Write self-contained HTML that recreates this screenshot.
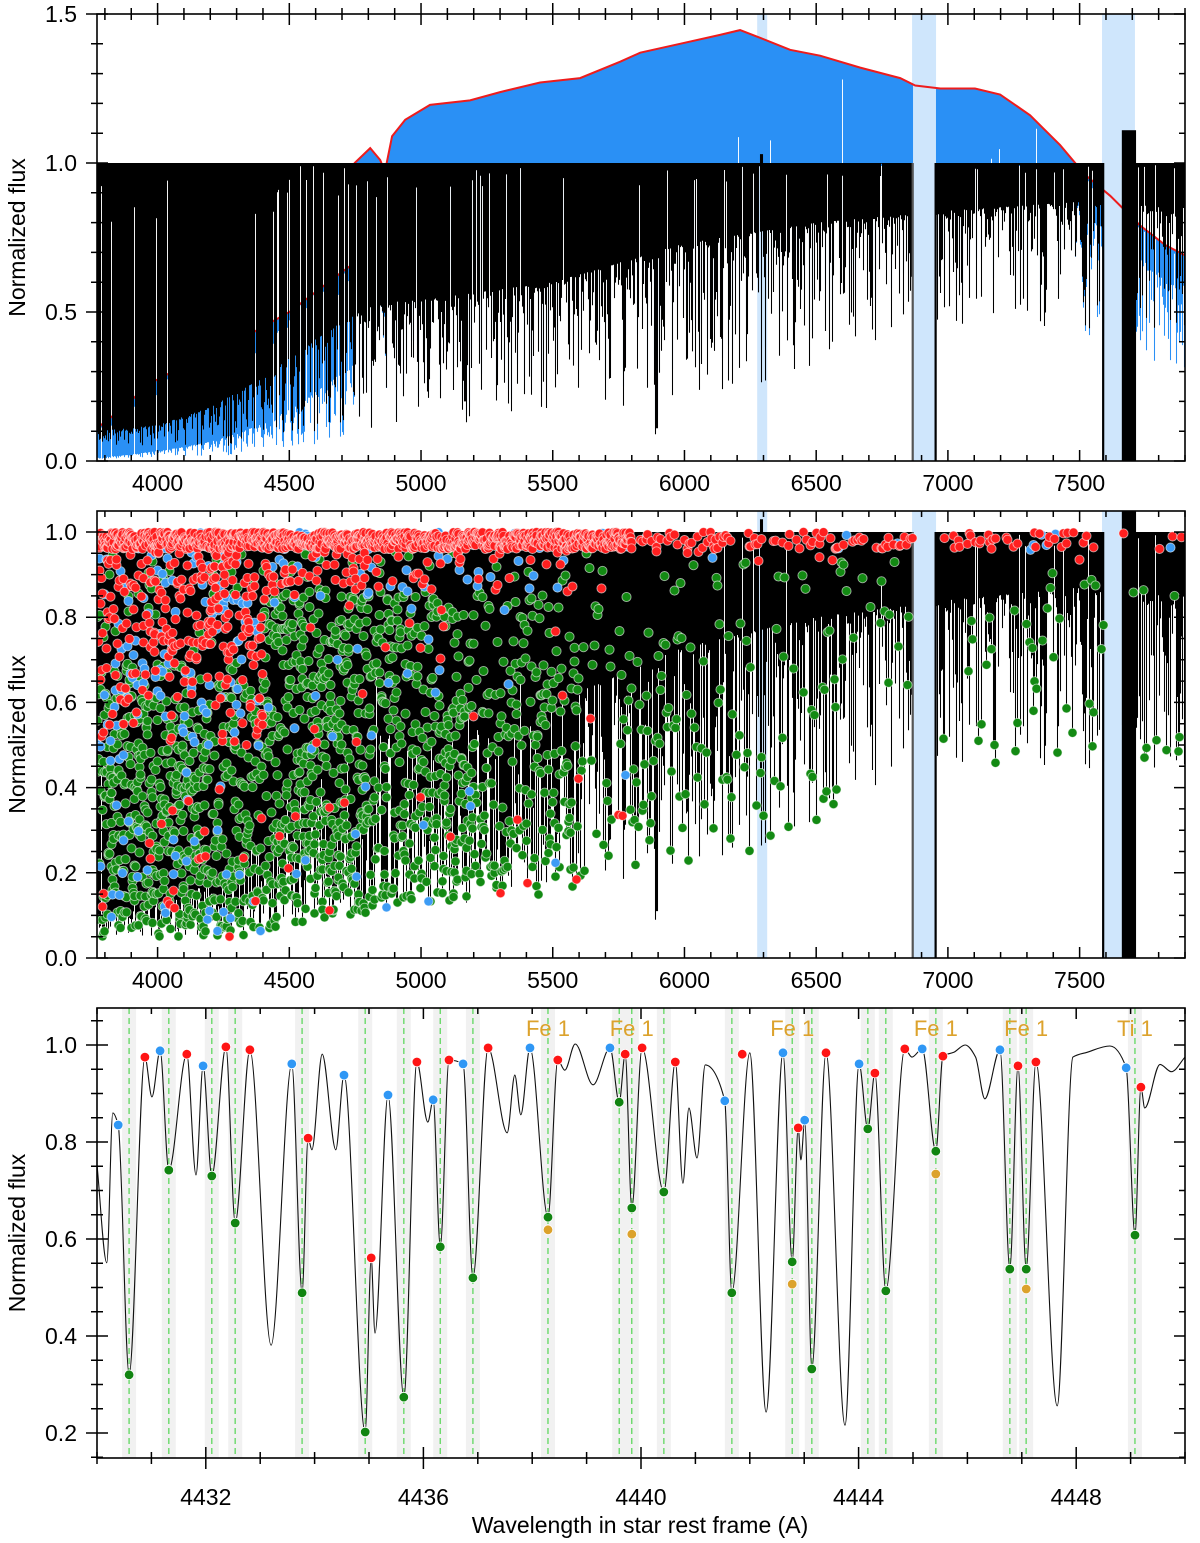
<!DOCTYPE html>
<html><head><meta charset="utf-8"><title>Spectrum normalization</title>
<style>
html,body{margin:0;padding:0;background:#fff;}
svg{display:block;font-family:"Liberation Sans",Arial,sans-serif;}
</style></head>
<body>
<svg id="fig" width="1200" height="1543" viewBox="0 0 1200 1543" xmlns="http://www.w3.org/2000/svg">
<defs>
<clipPath id="c1"><rect x="97" y="14" width="1088" height="447"/></clipPath>
<clipPath id="c2"><rect x="97" y="511" width="1088" height="447"/></clipPath>
<clipPath id="c3"><rect x="97" y="1008" width="1088" height="450"/></clipPath>
</defs>
<g id="p1"></g>
<g id="p2"></g>
<g id="p3"></g>
</svg>
<script>
// ---------- data ----------
const contWl   = [3770,3857,3971,4100,4300,4500,4693,4740,4748,4807,4845,4863,4890,4940,5034,5186,5300,5452,5604,5756,5832,5983,6135,6211,6287,6401,6515,6667,6819,6876,6971,7103,7198,7312,7426,7521,7616,7730,7825,7900];
const contFlux = [0.11,0.17,0.26,0.32,0.40,0.50,0.63,0.66,1.0,1.05,1.01,0.97,1.09,1.145,1.195,1.21,1.238,1.27,1.285,1.34,1.37,1.40,1.43,1.446,1.42,1.38,1.36,1.32,1.285,1.26,1.25,1.25,1.23,1.16,1.06,0.96,0.89,0.79,0.725,0.69];
const solidWl    = [3770,4000,4200,4400,4650,4850,5000,5500,6000,6500,7000,7500,7900];
const solidDepth = [0.9,0.88,0.82,0.72,0.56,0.46,0.46,0.4,0.27,0.2,0.16,0.13,0.15];
const maxWl    = [3770,4300,4700,5000,5500,5900,6300,6600,7000,7500,7900];
const maxDepth = [0.95,0.95,0.9,0.88,0.85,0.8,0.75,0.65,0.55,0.55,0.6];
const deepLineWl   = [4227,5167,5173,5184,5890,5896,6563];
const deepLineFlux = [0.12,0.2,0.13,0.15,0.09,0.11,0.4];
const bandStart = [6276,6864,7585];
const bandEnd   = [6314,6955,7710];
const tellBarWl   = [6866,6953,7589,7664,7718];
const tellBarTop1 = [1.0,1.0,1.0,1.11,1.11];

// bottom panel spectrum
const zWl = [4430.00,4430.18,4430.29,4430.39,4430.59,4430.88,4431.01,4431.16,4431.32,4431.65,4431.82,4431.95,4432.11,4432.37,4432.54,4432.81,4433.20,4433.58,4433.77,4433.88,4433.95,4434.14,4434.39,4434.54,4434.93,4435.04,4435.11,4435.35,4435.64,4435.88,4436.08,4436.18,4436.31,4436.47,4436.73,4436.91,4437.19,4437.54,4437.68,4437.79,4437.96,4438.29,4438.47,4438.60,4438.79,4439.12,4439.43,4439.60,4439.71,4439.83,4440.02,4440.42,4440.63,4440.77,4440.88,4441.03,4441.18,4441.54,4441.67,4442.00,4442.30,4442.61,4442.78,4442.89,4442.94,4443.01,4443.14,4443.40,4443.75,4444.01,4444.17,4444.30,4444.50,4444.85,4444.98,4445.17,4445.42,4445.55,4445.75,4445.96,4446.15,4446.32,4446.60,4446.78,4446.93,4447.08,4447.26,4447.65,4447.94,4448.20,4448.62,4448.92,4449.08,4449.19,4449.26,4449.54,4449.75,4450.00];
const zFlux = [0.753,0.551,0.860,0.835,0.320,0.975,0.893,0.988,0.742,0.981,0.732,0.957,0.730,0.996,0.633,0.990,0.381,0.961,0.489,0.808,0.784,0.981,0.784,0.938,0.202,0.561,0.406,0.897,0.274,0.965,0.841,0.887,0.584,0.969,0.961,0.520,0.994,0.819,0.938,0.856,0.994,0.645,0.969,0.948,1.002,0.918,0.994,0.882,0.981,0.664,0.994,0.697,0.965,0.715,0.870,0.767,0.959,0.885,0.489,0.984,0.243,0.984,0.553,0.829,0.763,0.845,0.332,0.984,0.216,0.961,0.827,0.942,0.493,0.992,0.975,0.992,0.781,0.977,0.985,1.0,0.975,0.889,0.990,0.538,0.957,0.538,0.965,0.256,0.975,0.985,0.998,0.953,0.608,0.913,0.870,0.960,0.945,0.975];
const greenWl = [4430.59,4431.32,4432.11,4432.54,4433.77,4434.93,4435.64,4436.31,4436.91,4438.29,4439.60,4439.83,4440.42,4441.67,4442.78,4443.14,4444.17,4444.50,4445.42,4446.78,4447.08,4449.08];
const greenFlux = [0.320,0.742,0.730,0.633,0.489,0.202,0.274,0.584,0.520,0.645,0.882,0.664,0.697,0.489,0.553,0.332,0.827,0.493,0.781,0.538,0.538,0.608];
const orangeWl = [4438.29,4439.83,4442.78,4445.42,4447.08];
const orangeFlux = [0.619,0.610,0.507,0.734,0.497];
const redWl = [4430.88,4431.65,4432.37,4432.81,4433.88,4435.04,4435.88,4436.47,4437.19,4438.47,4439.71,4440.02,4440.63,4441.86,4442.89,4443.40,4444.30,4444.85,4445.55,4446.93,4447.26,4449.19];
const redFlux = [0.975,0.981,0.996,0.990,0.808,0.561,0.965,0.969,0.994,0.969,0.981,0.994,0.965,0.981,0.829,0.984,0.942,0.992,0.977,0.957,0.965,0.913];
const blueWl = [4430.39,4431.16,4431.95,4433.58,4434.54,4435.35,4436.18,4436.73,4437.96,4439.43,4441.54,4442.61,4443.01,4444.01,4445.17,4446.60,4448.92];
const blueFlux = [0.835,0.988,0.957,0.961,0.938,0.897,0.887,0.961,0.994,0.994,0.885,0.984,0.845,0.961,0.992,0.990,0.953];
const labelWl = [4438.29,4439.83,4442.78,4445.42,4447.08,4449.08];
const labelText = ["Fe 1","Fe 1","Fe 1","Fe 1","Fe 1","Ti 1"];
const xTicks1 = ["4000","4500","5000","5500","6000","6500","7000","7500"];
const yTicks1 = ["0.0","0.5","1.0","1.5"];
const yTicks2 = ["0.0","0.2","0.4","0.6","0.8","1.0"];
const xTicks3 = ["4432","4436","4440","4444","4448"];
const yTicks3 = ["0.2","0.4","0.6","0.8","1.0"];

// panel-2 line markers (wavelength, flux, class) - filled below
const mkWl = [], mkFlux = [], mkCls = [];

// ---------- helpers ----------
const NS='http://www.w3.org/2000/svg';
function mk(tag,parent){const e=document.createElementNS(NS,tag);parent.appendChild(e);return e;}
function at(e,o){for(const k in o)e.setAttribute(k,o[k]);return e;}
function interp(xs,ys,x){if(x<=xs[0])return ys[0];for(let i=1;i<xs.length;i++){if(x<=xs[i]){const t=(x-xs[i-1])/(xs[i]-xs[i-1]);return ys[i-1]+t*(ys[i]-ys[i-1]);}}return ys[ys.length-1];}
function hsh(i,s){const v=Math.sin(i*127.1+s*311.7)*43758.5453;return v-Math.floor(v);}
const X0=97,X1=1185;
const xA=l=>X0+(l-3770)*(X1-X0)/(7900-3770);
const lA=x=>3770+(x-X0)*(7900-3770)/(X1-X0);
const y1=f=>461-f*298;
const y2=f=>958-f*426;
const xZ=l=>X0+(l-4430)*(X1-X0)/20;
const y3=f=>1433-(f-0.2)*485;
const inBand=(l,a,b)=>l>a&&l<b;
const supp=l=>inBand(l,6866,6953)||inBand(l,7591,7662);

// per-column normalized flux
const colN=[];
for(let x=X0;x<X1;x++){
  const l=lA(x+0.5), i=x-X0;
  const S=interp(solidWl,solidDepth,l), M=interp(maxWl,maxDepth,l);
  let n=1-S*(0.55+0.45*hsh(i,1));
  const sp=1-(S+(M-S)*Math.pow(hsh(i,2),2.2));
  n=Math.min(n,sp);
  if(hsh(i,3)<0.06) n=1-S*0.25*hsh(i,4);
  for(let k=0;k<deepLineWl.length;k++){if(Math.abs(l-deepLineWl[k])<2.2)n=Math.min(n,deepLineFlux[k]);}
  colN.push(Math.max(0.03,n));
}
// generate marker list
for(let x=X0;x<X1;x++){
  const l=lA(x+0.5), i=x-X0; if(supp(l))continue;
  const M=interp(maxWl,maxDepth,l);
  const topRate = l<5800?2.0:(l<7600?0.25:0.12);
  const midRate = l<4300?6:(l<4800?5:(l<5200?3.5:(l<5600?2.2:(l<6000?0.7:(l<6600?0.45:0.2)))));
  let cnt=0;
  let r=topRate; while(hsh(i*7+cnt,5)<r){ r-=1;
    const f=1-0.04*hsh(i*7+cnt,6);
    mkWl.push(l); mkFlux.push(f); mkCls.push(hsh(i*7+cnt,7)<0.1?'b':'r'); cnt++; if(cnt>3)break;}
  let q=midRate, c2=0; while(hsh(i*11+c2,8)<q){ q-=1;
    const f=1-M*(0.05+0.95*hsh(i*11+c2,9));
    const u=hsh(i*11+c2,10); let cls='g';
    if(l<4400){ if(f>0.7) cls=u<0.7?'r':(u<0.88?'b':'g'); else if(f>0.5) cls=u<0.3?'r':(u<0.45?'b':'g'); else cls=u<0.05?'r':(u<0.12?'b':'g'); }
    else if(l<5800){ if(f>0.86) cls=u<0.6?'r':(u<0.78?'b':'g'); else cls=u<0.03?'r':(u<0.07?'b':'g'); }
    else { if(f>0.93) cls=u<0.6?'r':'b'; else cls='g'; }
    mkWl.push(l); mkFlux.push(f); mkCls.push(cls); c2++; if(c2>7)break;}
}

// ---------- axes ----------
function axes(g,P,xl,yl){
  const fr=mk('rect',g); at(fr,{x:P.x0,y:P.y0,width:P.x1-P.x0,height:P.y1-P.y0,fill:'none',stroke:'#000','stroke-width':1.6});
   
  const tk=mk('path',g); let d='';
  P.xt.forEach(([v,maj])=>{const x=P.fx(v),L=maj?11:6;d+=`M${x} ${P.y1}v${-L}M${x} ${P.y0}v${L}`; if(P.outX) d+=`M${x} ${P.y1}v${L}`; if(P.outTop) d+=`M${x} ${P.y0}v${-L}`;});
  P.yt.forEach(([v,maj])=>{const y=P.fy(v),L=maj?11:6;d+=`M${P.x0} ${y}h${L}M${P.x1} ${y}h${-L}M${P.x0} ${y}h${-L}`;});
  at(tk,{d:d,stroke:'#000','stroke-width':1.5,fill:'none'});
   
  xl.forEach(s=>{const t=mk('text',g);at(t,{x:P.fx(+s),y:P.xly,'text-anchor':'middle','font-size':23});t.textContent=s;
     });
  yl.forEach(s=>{const t=mk('text',g);at(t,{x:77,y:P.fy(+s)+8,'text-anchor':'end','font-size':23});t.textContent=s;
     });
  const yt=mk('text',g);const cy=(P.y0+P.y1)/2;at(yt,{x:0,y:0,transform:`translate(25 ${cy}) rotate(-90)`,'text-anchor':'middle','font-size':23});yt.textContent='Normalized flux';
   
}
function wlTicks(){const a=[];for(let v=3800;v<=7900;v+=100)a.push([v,v%500===0]);return a;}

// ---------- panel 1 ----------
(function(){
  const g=document.getElementById('p1');
  const pg=mk('g',g); pg.setAttribute('clip-path','url(#c1)');
   
  bandStart.forEach((a,k)=>{const r=mk('rect',pg);at(r,{x:xA(a),y:14,width:xA(bandEnd[k])-xA(a),height:447,fill:'#cfe6fc'});
     });
  let db='',dk='';
  for(let x=X0;x<X1;x++){const l=lA(x+0.5);if(supp(l))continue;const c=interp(contWl,contFlux,l),n=colN[x-X0];
    let bb=c*n; if(l>4745&&hsh(x,12)>0.05) bb=Math.min(bb,0.99);
    db+=`M${x+0.5} ${y1(c).toFixed(1)}V${y1(bb).toFixed(1)}`;
    let top=1; if(l>6285&&l<6300)top=1.03;
    dk+=`M${x+0.5} ${y1(top).toFixed(1)}V${y1(n).toFixed(1)}`;}
  const pb=mk('path',pg);at(pb,{d:db,stroke:'#2a90f5','stroke-width':1.05,fill:'none'});
   
  let dr='';contWl.forEach((l,k)=>{dr+=(k?'L':'M')+xA(l).toFixed(1)+' '+y1(contFlux[k]).toFixed(1);});
  const pr=mk('path',pg);at(pr,{d:dr,stroke:'#ee1c1c','stroke-width':2,fill:'none'});
   
  const pk=mk('path',pg);at(pk,{d:dk,stroke:'#000','stroke-width':1.05,fill:'none'});
   
  tellBarWl.forEach((l,k)=>{if(k===4)return;const w=k===3?(xA(7718)-xA(7664)):2.2;
    const b=mk('rect',pg);at(b,{x:xA(l)-1,y:y1(tellBarTop1[k]),width:w,height:y1(0)-y1(tellBarTop1[k]),fill:k===0?'#555':'#000'});
     });
  axes(g,{x0:X0,x1:X1,y0:14,y1:461,fx:xA,fy:y1,xt:wlTicks(),yt:[0,.1,.2,.3,.4,.5,.6,.7,.8,.9,1,1.1,1.2,1.3,1.4,1.5].map(v=>[v,Math.abs(v*2-Math.round(v*2))<1e-6]),xly:491,outTop:true},xTicks1,yTicks1);
})();

// ---------- panel 2 ----------
(function(){
  const g=document.getElementById('p2');
  const pg=mk('g',g); pg.setAttribute('clip-path','url(#c2)');
   
  bandStart.forEach((a,k)=>{const r=mk('rect',pg);at(r,{x:xA(a),y:511,width:xA(bandEnd[k])-xA(a),height:447,fill:'#cfe6fc'});
     });
  const low=colN.slice();
  mkWl.forEach((l,k)=>{const i=Math.floor(xA(l))-X0;if(i>=0&&i<low.length)low[i]=Math.min(low[i],mkFlux[k]);});
  let dk='';
  for(let x=X0;x<X1;x++){const l=lA(x+0.5);if(supp(l))continue;let top=1;if(l>6285&&l<6300)top=1.03;
    dk+=`M${x+0.5} ${y2(top).toFixed(1)}V${y2(low[x-X0]).toFixed(1)}`;}
  const pk=mk('path',pg);at(pk,{d:dk,stroke:'#000','stroke-width':1.05,fill:'none'});
   
  tellBarWl.forEach((l,k)=>{if(k===4)return;const w=k===3?(xA(7718)-xA(7664)):2.2;const top=k===3?1.06:1.0;
    const b=mk('rect',pg);at(b,{x:xA(l)-1,y:y2(top),width:w,height:y2(0)-y2(top),fill:k===0?'#555':'#000'});
     });
  const col={r:'#ff1f1f',b:'#3d9cf5',g:'#138a13'};
  const order=['g','b','r'];
  order.forEach(cl=>{mkWl.forEach((l,k)=>{if(mkCls[k]!==cl)return;
    const c=mk('circle',pg);at(c,{cx:xA(l).toFixed(1),cy:y2(mkFlux[k]).toFixed(1),r:4.6,fill:col[cl],stroke:'#fff','stroke-width':0.9,'stroke-opacity':0.6});
    
    });});
  axes(g,{x0:X0,x1:X1,y0:511,y1:958,fx:xA,fy:y2,xt:wlTicks(),yt:[0,.05,.1,.15,.2,.25,.3,.35,.4,.45,.5,.55,.6,.65,.7,.75,.8,.85,.9,.95,1].map(v=>[v,Math.abs(v*5-Math.round(v*5))<1e-6]),xly:988},xTicks1,yTicks2);
})();

// ---------- panel 3 ----------
(function(){
  const g=document.getElementById('p3');
  const pg=mk('g',g); pg.setAttribute('clip-path','url(#c3)');
   
  greenWl.forEach(l=>{const r=mk('rect',pg);at(r,{x:xZ(l)-7,y:1008,width:14,height:450,fill:'#f1f1f1'});
     });
  greenWl.forEach(l=>{const p=mk('line',pg);at(p,{x1:xZ(l),x2:xZ(l),y1:1008,y2:1458,stroke:'#6ad96a','stroke-width':1.4,'stroke-dasharray':'6 4'});
     });
  const xs=zWl.map(xZ), ys=zFlux.map(y3), N=xs.length;
  const dl=[],m=[];
  for(let i=0;i<N-1;i++)dl.push((ys[i+1]-ys[i])/(xs[i+1]-xs[i]));
  m[0]=dl[0];m[N-1]=dl[N-2];
  for(let i=1;i<N-1;i++){ if(dl[i-1]*dl[i]<=0) m[i]=0; else { const w1=2*(xs[i+1]-xs[i])+(xs[i]-xs[i-1]), w2=(xs[i+1]-xs[i])+2*(xs[i]-xs[i-1]); m[i]=(w1+w2)/(w1/dl[i-1]+w2/dl[i]); } }
  let d=`M${xs[0].toFixed(1)} ${ys[0].toFixed(1)}`;
  for(let i=0;i<N-1;i++){const h=(xs[i+1]-xs[i])/3;
    d+=`C${(xs[i]+h).toFixed(1)} ${(ys[i]+m[i]*h).toFixed(1)} ${(xs[i+1]-h).toFixed(1)} ${(ys[i+1]-m[i+1]*h).toFixed(1)} ${xs[i+1].toFixed(1)} ${ys[i+1].toFixed(1)}`;}
  const sp=mk('path',pg);at(sp,{d:d,stroke:'#111','stroke-width':1.1,fill:'none'});
   
  function dots(ws,fs,color,name){ws.forEach((l,k)=>{const c=mk('circle',pg);at(c,{cx:xZ(l).toFixed(1),cy:y3(fs[k]).toFixed(1),r:4.8,fill:color,stroke:'#fff','stroke-width':0.8});
     });}
  dots(orangeWl,orangeFlux,'#dca22c','orange-marker');
  dots(greenWl,greenFlux,'#118411','green-marker');
  dots(redWl,redFlux,'#ff1414','red-marker');
  dots(blueWl,blueFlux,'#2f97f5','blue-marker');
  labelWl.forEach((l,k)=>{const t=mk('text',pg);at(t,{x:xZ(l),y:1036,'text-anchor':'middle','font-size':22,fill:'#dca22c'});t.textContent=labelText[k];
     });
  const xt=[];for(let v=4430;v<=4450;v++)xt.push([v,(v-4432)%4===0]);
  const yt=[];for(let v=0.15;v<=1.0751;v+=0.05)yt.push([+v.toFixed(2),Math.abs(v*5-Math.round(v*5))<1e-6]);
  axes(g,{x0:X0,x1:X1,y0:1008,y1:1458,fx:xZ,fy:y3,xt:xt,yt:yt,xly:1505,outX:true},xTicks3,yTicks3);
  const tt=mk('text',g);at(tt,{x:640,y:1533,'text-anchor':'middle','font-size':23});tt.textContent='Wavelength in star rest frame (A)';
   
})();
</script>
</body></html>
